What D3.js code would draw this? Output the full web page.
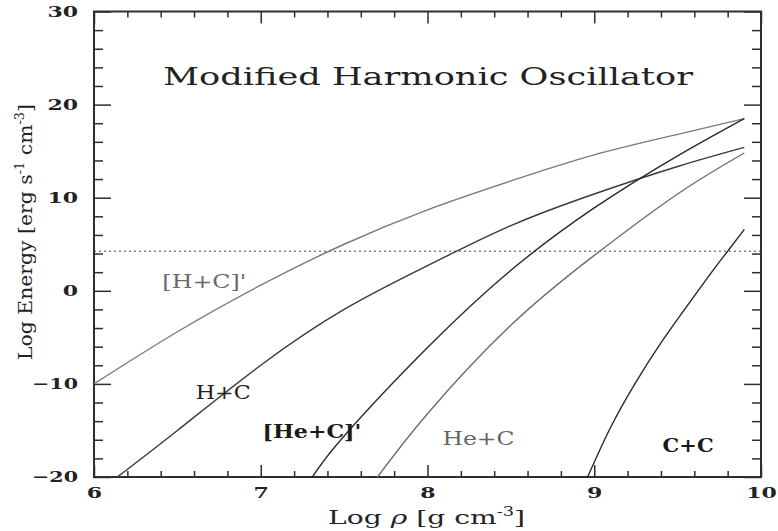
<!DOCTYPE html>
<html>
<head>
<meta charset="utf-8">
<script src="https://cdn.jsdelivr.net/npm/d3@7"></script>
<style>
  html, body { margin: 0; padding: 0; background: #fff; }
  svg { display: block; }
</style>
</head>
<body>
<svg id="chart" width="778" height="531"></svg>
<script>
// ---- data ----
const xMajorTicks = [6, 7, 8, 9, 10];
const yMajorTicks = [-20, -10, 0, 10, 20, 30];
const thresholdLevel = 4.25;

const seriesNames = ["[H+C]'", "H+C", "[He+C]'", "He+C", "C+C"];

const hcPrimeX = [6.0, 6.5, 7.0, 7.5, 8.0, 8.5, 9.0, 9.5, 9.9];
const hcPrimeY = [-10, -4.4, 0.6, 5.0, 8.7, 11.8, 14.6, 16.8, 18.5];

const hcX = [6.14, 6.5, 7.0, 7.5, 8.0, 8.5, 9.0, 9.5, 9.9];
const hcY = [-20, -15.0, -8.0, -2.0, 2.7, 7.0, 10.4, 13.35, 15.4];

const hecPrimeX = [7.31, 7.5, 8.0, 8.5, 9.0, 9.5, 9.9];
const hecPrimeY = [-20, -15.6, -6.1, 2.2, 8.9, 14.5, 18.5];

const hecX = [7.70, 8.0, 8.5, 9.0, 9.5, 9.9];
const hecY = [-20, -13.2, -3.7, 3.8, 10.4, 14.8];

const ccX = [8.96, 9.1, 9.25, 9.4, 9.55, 9.7, 9.8, 9.9];
const ccY = [-20, -14.6, -9.8, -5.6, -1.8, 1.9, 4.25, 6.6];

// ---- layout ----
const svg = d3.select("#chart");
const L = 94, R = 761, T = 11.5, B = 477;
const x = d3.scaleLinear().domain([6, 10]).range([L, R]);
const y = d3.scaleLinear().domain([-20, 30]).range([B, T]);

const xMinor = d3.range(6, 10.001, 0.2).filter(v => Math.abs(v - Math.round(v)) > 1e-6);
const yMinor = d3.range(-20, 30.001, 2).filter(v => Math.abs(v % 10) > 1e-6);

const ink = "#2e2e2e";
const serif = "'DejaVu Serif', 'Liberation Serif', serif";

function styleAxis(g) {
  g.select(".domain").remove();
  g.selectAll(".tick line").attr("stroke", ink).attr("stroke-width", 1.5);
}

// minor ticks
svg.append("g").attr("transform", `translate(0,${B})`)
  .call(d3.axisBottom(x).tickValues(xMinor).tickSize(-6).tickFormat("")).call(styleAxis);
svg.append("g").attr("transform", `translate(0,${T})`)
  .call(d3.axisTop(x).tickValues(xMinor).tickSize(-6).tickFormat("")).call(styleAxis);
svg.append("g").attr("transform", `translate(${L},0)`)
  .call(d3.axisLeft(y).tickValues(yMinor).tickSize(-9).tickFormat("")).call(styleAxis);
svg.append("g").attr("transform", `translate(${R},0)`)
  .call(d3.axisRight(y).tickValues(yMinor).tickSize(-9).tickFormat("")).call(styleAxis);

// major ticks
const fmt = d3.format("d");
const gxB = svg.append("g").attr("transform", `translate(0,${B})`)
  .call(d3.axisBottom(x).tickValues(xMajorTicks).tickSize(-12).tickPadding(10).tickFormat(fmt)).call(styleAxis);
svg.append("g").attr("transform", `translate(0,${T})`)
  .call(d3.axisTop(x).tickValues(xMajorTicks).tickSize(-12).tickFormat("")).call(styleAxis);
const gyL = svg.append("g").attr("transform", `translate(${L},0)`)
  .call(d3.axisLeft(y).tickValues(yMajorTicks).tickSize(-17).tickPadding(16).tickFormat(fmt)).call(styleAxis);
svg.append("g").attr("transform", `translate(${R},0)`)
  .call(d3.axisRight(y).tickValues(yMajorTicks).tickSize(-17).tickFormat("")).call(styleAxis);

[gxB, gyL].forEach(g => {
  g.selectAll(".tick text")
    .attr("font-family", serif)
    .attr("font-size", 15)
    .attr("fill", "#222")
    .attr("font-weight", "bold")
    .attr("lengthAdjust", "spacingAndGlyphs")
    .each(function () {
      const t = d3.select(this).text();
      d3.select(this).attr("textLength", t.length * 15.3);
    });
});
gxB.selectAll(".tick text").attr("dy", "0.71em");

// frame
svg.append("rect")
  .attr("x", L).attr("y", T).attr("width", R - L).attr("height", B - T)
  .attr("fill", "none").attr("stroke", ink).attr("stroke-width", 2);

// dotted threshold line
svg.append("line")
  .attr("x1", x(6)).attr("x2", x(10))
  .attr("y1", y(thresholdLevel)).attr("y2", y(thresholdLevel))
  .attr("stroke", "#444").attr("stroke-width", 1).attr("stroke-dasharray", "2,3");

// curves
const seriesX = [hcPrimeX, hcX, hecPrimeX, hecX, ccX];
const seriesY = [hcPrimeY, hcY, hecPrimeY, hecY, ccY];
const seriesColor = ["#7a7a7a", "#3a3a3a", "#2a2a2a", "#6e6e6e", "#2a2a2a"];
const line = d3.line().x(d => x(d[0])).y(d => y(d[1])).curve(d3.curveNatural);

svg.append("defs").append("clipPath").attr("id", "clip")
  .append("rect").attr("x", L).attr("y", T).attr("width", R - L).attr("height", B - T);

const plot = svg.append("g").attr("clip-path", "url(#clip)");
seriesNames.forEach((name, i) => {
  const pts = seriesX[i].map((v, j) => [v, seriesY[i][j]]);
  plot.append("path")
    .datum(pts)
    .attr("d", line)
    .attr("fill", "none")
    .attr("stroke", seriesColor[i])
    .attr("stroke-width", 1.4);
});

// curve labels
const labelX = [6.41, 6.61, 7.01, 8.09, 9.41];
const labelY = [0.3, -11.6, -15.8, -16.6, -17.3];
const labelW = [84, 55, 99, 72, 51];
const labelSize = [19, 19, 19, 19, 18];
const labelWeight = ["normal", "normal", "bold", "normal", "bold"];
const labelColor = ["#6a6a6a", "#222", "#1a1a1a", "#666", "#1a1a1a"];
seriesNames.forEach((name, i) => {
  svg.append("text")
    .attr("x", x(labelX[i])).attr("y", y(labelY[i]))
    .attr("font-family", serif)
    .attr("font-size", labelSize[i])
    .attr("font-weight", labelWeight[i])
    .attr("fill", labelColor[i])
    .attr("textLength", labelW[i])
    .attr("lengthAdjust", "spacingAndGlyphs")
    .text(name);
});

// title
svg.append("text")
  .attr("x", 163).attr("y", 85)
  .attr("font-family", serif)
  .attr("font-size", 24)
  .attr("fill", "#222")
  .attr("textLength", 530)
  .attr("lengthAdjust", "spacingAndGlyphs")
  .text("Modified Harmonic Oscillator");

// x axis title
const xt = svg.append("text")
  .attr("x", 328).attr("y", 524)
  .attr("font-family", serif)
  .attr("font-size", 19)
  .attr("fill", "#222")
  .attr("textLength", 197)
  .attr("lengthAdjust", "spacingAndGlyphs");
xt.append("tspan").text("Log ");
xt.append("tspan").attr("font-style", "italic").text("ρ");
xt.append("tspan").text(" [g cm");
xt.append("tspan").attr("font-size", 12).attr("dy", -8).text("-3");
xt.append("tspan").attr("dy", 8).text("]");

// y axis title
const yt = svg.append("text")
  .attr("transform", `translate(32,360) rotate(-90)`)
  .attr("font-family", serif)
  .attr("font-size", 19)
  .attr("fill", "#222")
  .attr("textLength", 256)
  .attr("lengthAdjust", "spacingAndGlyphs");
yt.append("tspan").text("Log Energy [erg s");
yt.append("tspan").attr("font-size", 12).attr("dy", -8).text("-1");
yt.append("tspan").attr("dy", 8).text(" cm");
yt.append("tspan").attr("font-size", 12).attr("dy", -8).text("-3");
yt.append("tspan").attr("dy", 8).text("]");
</script>
</body>
</html>
